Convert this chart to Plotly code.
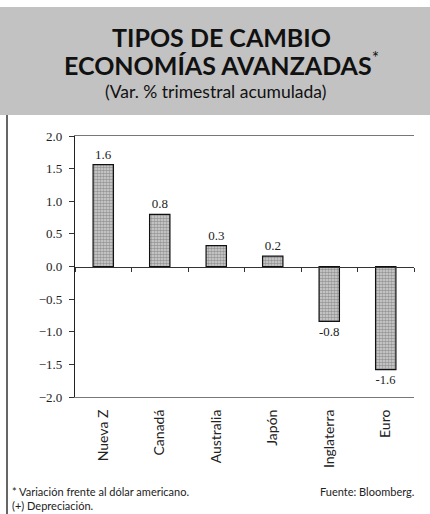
import plotly.graph_objects as go

categories = ["Nueva Z", "Canadá", "Australia", "Japón", "Inglaterra", "Euro"]
values = [1.56, 0.80, 0.32, 0.16, -0.84, -1.58]
value_labels = ["1.6", "0.8", "0.3", "0.2", "-0.8", "-1.6"]
y_ticks = [2.0, 1.5, 1.0, 0.5, 0.0, -0.5, -1.0, -1.5, -2.0]

W, H = 430, 514
L, R, T, B = 75, 16, 136, 117
PW, PH = W - L - R, H - T - B

def px(x):
    return (x - L) / PW

def py(y):
    return (H - B - y) / PH

SERIF = "Liberation Serif"
SANS = "Lato"

fig = go.Figure()
fig.add_trace(go.Bar(
    x=categories, y=values, width=0.36,
    text=value_labels, textposition="outside", cliponaxis=False,
    textfont=dict(family=SERIF, size=13, color="#222"),
    marker=dict(color="#c0c0c0",
                line=dict(color="#111", width=1.2),
                pattern=dict(shape=".", fgcolor="#555", bgcolor="#d6d6d6", size=3, solidity=0.6)),
    hoverinfo="skip", showlegend=False,
))
# invisible trace for the zero-line tick axis
fig.add_trace(go.Scatter(x=categories, y=[0]*len(categories), xaxis="x2", yaxis="y",
                         mode="markers", marker=dict(opacity=0), showlegend=False, hoverinfo="skip"))

fig.update_layout(
    width=W, height=H,
    margin=dict(l=L, r=R, t=T, b=B),
    paper_bgcolor="white", plot_bgcolor="white",
    xaxis=dict(type="category", categoryarray=categories, range=[-0.5, 5.5],
               tickangle=-90, ticks="", showline=True, linecolor="#777", linewidth=1,
               mirror=True, tickfont=dict(family=SANS, size=14, color="#222"),
               showgrid=False, ticklabelstandoff=6),
    xaxis2=dict(type="category", categoryarray=categories, range=[-0.5, 5.5],
                overlaying="x", anchor="free", position=0.5,
                showline=True, linecolor="#333", linewidth=1.2,
                ticks="outside", tickson="boundaries", ticklen=4, tickcolor="#333",
                showticklabels=False, showgrid=False),
    yaxis=dict(range=[-2, 2], tickvals=y_ticks, tickformat=".1f",
               ticks="outside", ticklen=5, tickcolor="#333",
               showline=True, linecolor="#222", linewidth=1.2,
               tickfont=dict(family=SERIF, size=13, color="#222"),
               ticklabelstandoff=4,
               showgrid=False, zeroline=False),
)

# title banner
fig.add_shape(type="rect", xref="paper", yref="paper",
              x0=px(0), x1=px(W), y0=py(115), y1=py(7),
              fillcolor="#c2c2c2", line=dict(width=0), layer="below")
# left frame line
fig.add_shape(type="line", xref="paper", yref="paper",
              x0=px(7), x1=px(7), y0=py(115), y1=py(H),
              line=dict(color="#333", width=1.5))

fig.add_annotation(xref="paper", yref="paper", x=px(221), y=py(37), yanchor="middle",
                   text="<b>TIPOS DE CAMBIO</b>", showarrow=False,
                   font=dict(family=SANS, size=25, color="#111"))
fig.add_annotation(xref="paper", yref="paper", x=px(221), y=py(64), yanchor="middle",
                   text="<b>ECONOMÍAS AVANZADAS</b><sup>*</sup>", showarrow=False,
                   font=dict(family=SANS, size=25, color="#111"))
fig.add_annotation(xref="paper", yref="paper", x=px(215), y=py(91), yanchor="middle",
                   text="(Var. % trimestral acumulada)", showarrow=False,
                   font=dict(family=SANS, size=17.5, color="#111"))

fig.add_annotation(xref="paper", yref="paper", x=px(10), y=py(491), xanchor="left", yanchor="middle",
                   text="* Variación frente al dólar americano.", showarrow=False,
                   font=dict(family=SANS, size=11, color="#222"))
fig.add_annotation(xref="paper", yref="paper", x=px(10), y=py(505), xanchor="left", yanchor="middle",
                   text="(+) Depreciación.", showarrow=False,
                   font=dict(family=SANS, size=11, color="#222"))
fig.add_annotation(xref="paper", yref="paper", x=px(416), y=py(491), xanchor="right", yanchor="middle",
                   text="Fuente: Bloomberg.", showarrow=False,
                   font=dict(family=SANS, size=11, color="#222"))

fig.write_html("out.html", config={"displayModeBar": False},
               post_script="document.body.style.margin='0';document.body.style.padding='0';document.body.style.overflow='hidden';")
